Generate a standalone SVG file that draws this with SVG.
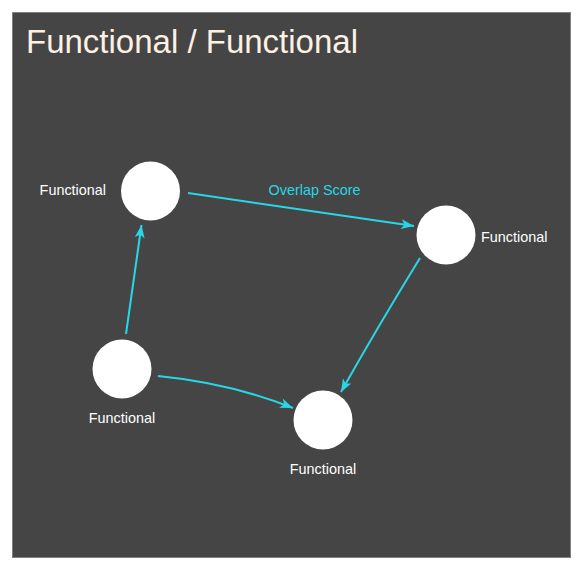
<svg xmlns="http://www.w3.org/2000/svg" width="584" height="569" viewBox="0 0 584 569">
<style>
.bg{fill:#454545;stroke:#808080;stroke-width:1}
.title{font-family:"Liberation Sans",Arial,sans-serif;font-size:33px;fill:#fdf1e4}
.node{fill:#ffffff}
.lbl{font-family:"Liberation Sans",Arial,sans-serif;font-size:14.4px;fill:#ffffff}
.edge{fill:none;stroke:#26d8e6;stroke-width:2}
.elbl{font-family:"Liberation Sans",Arial,sans-serif;font-size:14.4px;fill:#26d8e6}
</style>
<defs>
<marker id="arr" markerUnits="userSpaceOnUse" markerWidth="14" markerHeight="11" refX="13" refY="5" orient="auto">
<path d="M0,0 L13,5 L0,10 L3.5,5 z" fill="#26d8e6"/>
</marker>
</defs>
<rect class="bg" x="12.5" y="12.5" width="558" height="545"/>
<text class="title" x="26" y="53">Functional / Functional</text>
<g id="connectors">
<path class="edge" d="M188,193 L414,226" marker-end="url(#arr)"/>
<text class="elbl" x="314.5" y="195" text-anchor="middle">Overlap Score</text>
<path class="edge" d="M126,334 L141.5,225" marker-end="url(#arr)"/>
<path class="edge" d="M420,258 Q377,328 341,392" marker-end="url(#arr)"/>
<path class="edge" d="M158,376 Q230,383 293,408" marker-end="url(#arr)"/>
</g>
<g id="nodeA">
<circle class="node" cx="150.5" cy="191" r="29.5"/>
<text class="lbl" x="106" y="195" text-anchor="end">Functional</text>
</g>
<g id="nodeB">
<circle class="node" cx="446" cy="235" r="29.5"/>
<text class="lbl" x="481" y="242">Functional</text>
</g>
<g id="nodeC">
<circle class="node" cx="122" cy="369" r="29.5"/>
<text class="lbl" x="122" y="423" text-anchor="middle">Functional</text>
</g>
<g id="nodeD">
<circle class="node" cx="323" cy="420" r="29.5"/>
<text class="lbl" x="323" y="474" text-anchor="middle">Functional</text>
</g>
</svg>
